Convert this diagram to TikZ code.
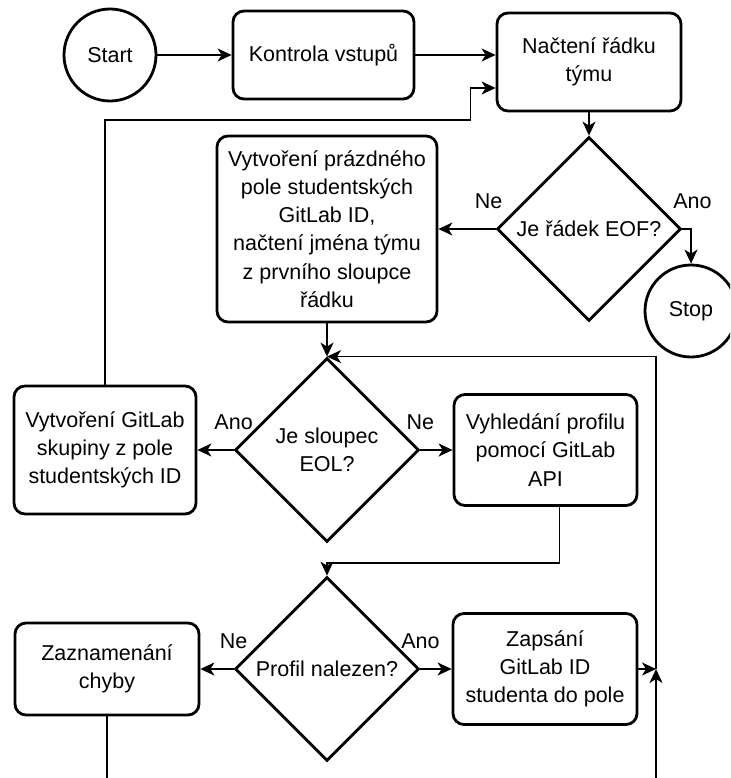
\documentclass[tikz,border=0pt]{standalone}
\usepackage{fontspec}
\setmainfont{Liberation Sans}
\usetikzlibrary{arrows.meta}
\usetikzlibrary{shapes.geometric}
\usetikzlibrary{positioning}

\tikzset{
  txt/.style={font=\fontsize{21.5}{28.2}\selectfont, align=center},
  box/.style={txt, draw, line width=2.8pt, rounded corners=11pt, inner sep=2pt},
  decision/.style={txt, draw, diamond, aspect=1, line width=2.8pt, minimum size=184pt, inner sep=0pt},
  term/.style={txt, draw, circle, line width=2.8pt, minimum size=92pt, inner sep=0pt},
  lbl/.style={font=\fontsize{21.5}{28.2}\selectfont, inner sep=0pt, above=19pt},
}

\begin{document}
\begin{tikzpicture}[>={Stealth[length=14pt,width=13pt,inset=4pt]}, line width=1.6pt, node distance=2cm, on grid, auto]

        \useasboundingbox (0,0) rectangle (730pt,-778pt);
        \clip (0,0) rectangle (730pt,-778pt);

        \node[term] (start) at (110pt,-55pt) {Start};
        \node[box, minimum width=181pt, minimum height=88pt] (kontrola) [right=213.5pt of start] {Kontrola vstupů};
        \node[box, minimum width=184pt, minimum height=98pt] (nacteni) [below right=7pt and 265.5pt of kontrola] {Načtení řádku\\týmu};

        \node[decision] (eof) [below=167pt of nacteni] {Je řádek EOF?};
        \node[box, minimum width=220pt, minimum height=186pt] (prazdne) [left=262pt of eof] {Vytvoření prázdného\\pole studentských\\GitLab ID,\\načtení jména týmu\\z prvního sloupce\\řádku};
        \node[term] (stop) [below right=82pt and 102pt of eof] {Stop};

        \node[decision] (eol) [below=221pt of prazdne] {Je sloupec\\EOL?};
        \node[box, minimum width=182pt, minimum height=128pt] (skupina) [left=222pt of eol] {Vytvoření GitLab\\skupiny z pole\\studentských ID};
        \node[box, minimum width=183pt, minimum height=111pt] (vyhledani) [right=218.5pt of eol] {Vyhledání profilu\\pomocí GitLab\\API};

        \node[decision] (nalezen) [below=219pt of eol] {Profil nalezen?};
        \node[box, minimum width=184pt, minimum height=92pt] (chyba) [left=220pt of nalezen] {Zaznamenání\\chyby};
        \node[box, minimum width=184pt, minimum height=111pt] (zapis) [right=218pt of nalezen] {Zapsání\\GitLab ID\\studenta do pole};
        \coordinate[right=111pt of zapis] (join);

        \path[->]
        (start) edge (kontrola)
        (kontrola) edge (kontrola -| nacteni.west)
        (nacteni) edge (eof)

        (eof) edge node[lbl, at start, xshift=-7pt] {Ne} (prazdne)
        (prazdne) edge (eol)

        (eol) edge node[lbl, at start] {Ano} (skupina)
        (eol) edge node[lbl, at start] {Ne} (vyhledani)

        (nalezen) edge node[lbl, at start] {Ne} (chyba)
        (nalezen) edge node[lbl, at start] {Ano} (zapis)
        (zapis) edge (join)
        ;

        \draw[->] (eof.east) -| node[lbl, at start, xshift=10pt] {Ano} (stop.north);
        \draw[->] (skupina.north) |- ([xshift=-25pt, yshift=-58pt]nacteni.west) |- ([yshift=-26pt]nacteni.west);
        \draw[->] ([xshift=14pt]vyhledani.south) -- ++(0,-56pt) -| (nalezen.north);
        \draw[->] (chyba.south) -- ++(0,-100pt) -| (join);
        \draw[->] (join) |- (eol.north);
      \end{tikzpicture}
\end{document}
